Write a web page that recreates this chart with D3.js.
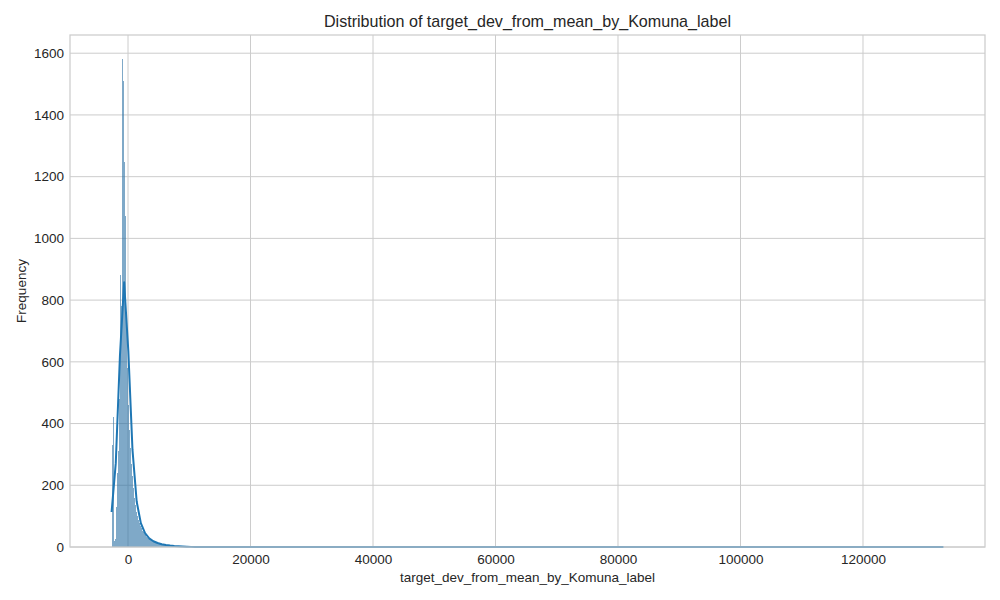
<!DOCTYPE html>
<html>
<head>
<meta charset="utf-8">
<script src="https://cdn.jsdelivr.net/npm/d3@7"></script>
<style>
  body { margin: 0; background: #fff; }
  text { font-family: "Liberation Sans", Arial, sans-serif; fill: #262626; }
</style>
</head>
<body>
<svg id="chart" width="1000" height="600"></svg>
<script>
// histogram bins
const binStart = -2680;
const binWidth = 160;
const binCounts = [
  330, 420, 20, 25, 100, 130, 240, 310, 480, 880,
  780, 1580, 1510, 1247, 1071, 760, 580, 460, 380, 320,
  270, 230, 190, 160, 135, 115, 100, 88, 78, 68,
  60, 53, 47, 42, 38, 34, 30, 27, 25, 23,
  21, 19, 17, 16, 15, 14, 13, 12, 11, 10,
  9, 8, 8, 7, 7, 6, 6, 5, 5, 5,
  4, 4, 4, 3, 3, 3, 3, 2, 2, 2,
  2, 2, 1, 1, 1, 1, 1, 1, 1, 1
];
// sparse far tail (single records)
const tailValues = [15800, 17400, 19900, 23500, 28700, 36000, 47500, 61000, 84000, 104000, 133130];

const xTicks = [0, 20000, 40000, 60000, 80000, 100000, 120000];
const yTicks = [0, 200, 400, 600, 800, 1000, 1200, 1400, 1600];

const margin = {top: 35, right: 15, bottom: 53, left: 70};
const svg_width = 1000, svg_height = 600;
const width = svg_width - margin.left - margin.right;
const height = svg_height - margin.top - margin.bottom;

// build bins (counts + tail records on the same grid)
const bins = binCounts.map((c, i) => ({x0: binStart + i * binWidth, x1: binStart + (i + 1) * binWidth, count: c}));
tailValues.forEach(v => {
  const i = Math.floor((v - binStart) / binWidth);
  while (bins.length <= i) {
    const k = bins.length;
    bins.push({x0: binStart + k * binWidth, x1: binStart + (k + 1) * binWidth, count: 0});
  }
  bins[i].count += 1;
});

const dataMin = binStart;
const dataMax = d3.max(tailValues);
const pad = (dataMax - dataMin) * 0.05;

const x = d3.scaleLinear().domain([dataMin - pad, dataMax + pad]).range([0, width]);
const yMax = d3.max(bins, d => d.count) * 1.05;
const y = d3.scaleLinear().domain([0, yMax]).range([height, 0]);

// gaussian kde over the binned data, scaled to counts
const bw = 630;
const gridN = 200;
const grid = d3.range(gridN).map(i => dataMin + (dataMax - dataMin) * i / (gridN - 1));
const norm = 1 / (bw * Math.sqrt(2 * Math.PI));
const kde = grid.map(g => {
  let s = 0;
  bins.forEach(b => {
    if (!b.count) return;
    const c = (b.x0 + b.x1) / 2;
    const z = (g - c) / bw;
    if (Math.abs(z) < 8) s += b.count * Math.exp(-0.5 * z * z);
  });
  return [g, s * norm * binWidth];
});

const svg = d3.select("#chart");

svg.append("text")
  .attr("x", margin.left + width / 2)
  .attr("y", 27)
  .attr("text-anchor", "middle")
  .style("font-size", "16.1px")
  .text("Distribution of target_dev_from_mean_by_Komuna_label");

const g = svg.append("g").attr("transform", `translate(${margin.left},${margin.top})`);

// grid
g.append("g").selectAll("line").data(xTicks).join("line")
  .attr("x1", d => x(d)).attr("x2", d => x(d))
  .attr("y1", 0).attr("y2", height)
  .attr("stroke", "#cccccc").attr("stroke-width", 1);
g.append("g").selectAll("line").data(yTicks).join("line")
  .attr("x1", 0).attr("x2", width)
  .attr("y1", d => y(d)).attr("y2", d => y(d))
  .attr("stroke", "#cccccc").attr("stroke-width", 1);

// bars
g.append("g").selectAll("rect").data(bins.filter(d => d.count > 0)).join("rect")
  .attr("x", d => x(d.x0))
  .attr("width", d => x(d.x1) - x(d.x0))
  .attr("y", d => y(d.count))
  .attr("height", d => y(0) - y(d.count))
  .attr("fill", "#2a6fa3")
  .attr("fill-opacity", 0.6)
  .attr("shape-rendering", "crispEdges");

// kde line
g.append("path")
  .datum(kde)
  .attr("fill", "none")
  .attr("stroke", "#1f77b4")
  .attr("stroke-width", 2)
  .attr("stroke-linejoin", "round")
  .attr("d", d3.line().x(d => x(d[0])).y(d => y(d[1])));

// frame
g.append("rect")
  .attr("width", width).attr("height", height)
  .attr("fill", "none").attr("stroke", "#cccccc").attr("stroke-width", 1.25);

// axes
const xAxis = g.append("g").attr("transform", `translate(0,${height})`)
  .call(d3.axisBottom(x).tickValues(xTicks).tickFormat(d3.format("d")).tickSize(0).tickPadding(7));
const yAxis = g.append("g")
  .call(d3.axisLeft(y).tickValues(yTicks).tickFormat(d3.format("d")).tickSize(0).tickPadding(6));
[xAxis, yAxis].forEach(a => {
  a.select(".domain").remove();
  a.selectAll("text").style("font-size", "13.5px").attr("fill", "#262626")
    .style("font-family", "'Liberation Sans', Arial, sans-serif");
});

svg.append("text")
  .attr("x", margin.left + width / 2)
  .attr("y", 582)
  .attr("text-anchor", "middle")
  .style("font-size", "13.5px")
  .text("target_dev_from_mean_by_Komuna_label");

svg.append("text")
  .attr("transform", `translate(26,${margin.top + height / 2}) rotate(-90)`)
  .attr("text-anchor", "middle")
  .style("font-size", "13.5px")
  .text("Frequency");
</script>
</body>
</html>
